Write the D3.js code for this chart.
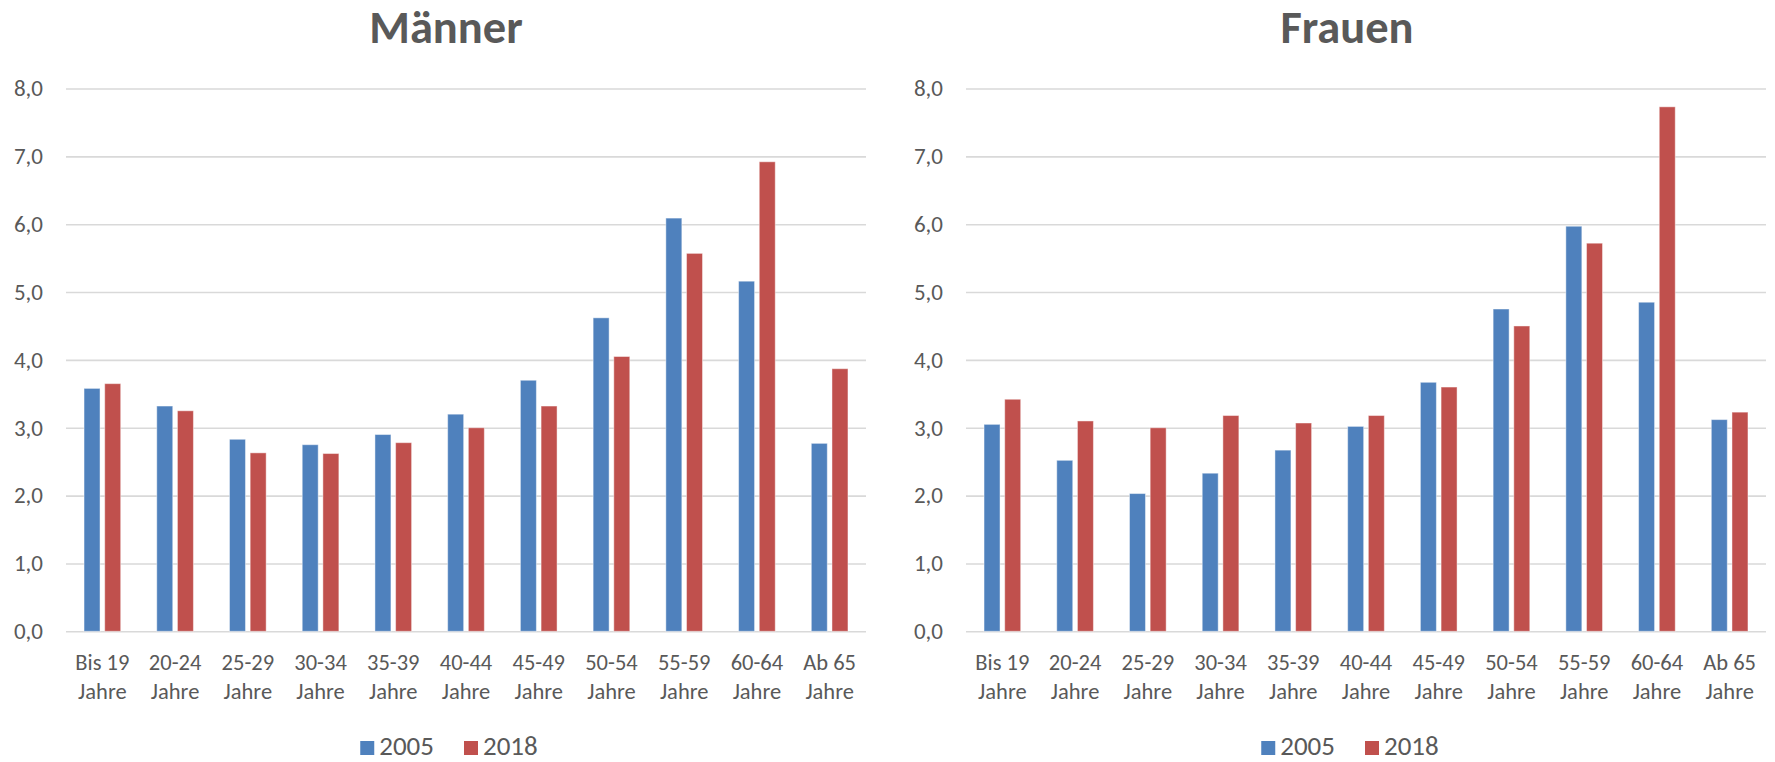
<!DOCTYPE html>
<html>
<head>
<meta charset="utf-8">
<script src="https://cdn.jsdelivr.net/npm/d3@7"></script>
<style>
  body { margin: 0; background: #fff; }
  svg text { font-family: Calibri, Carlito, "Open Sans", sans-serif; fill: #595959; }
</style>
</head>
<body>
<svg id="chart" width="1775" height="762"></svg>
<script>
// Daten
var categories = ["Bis 19 Jahre", "20-24 Jahre", "25-29 Jahre", "30-34 Jahre", "35-39 Jahre",
  "40-44 Jahre", "45-49 Jahre", "50-54 Jahre", "55-59 Jahre", "60-64 Jahre", "Ab 65 Jahre"];
var seriesNames = ["2005", "2018"];
var maenner2005 = [3.58, 3.32, 2.83, 2.75, 2.90, 3.20, 3.70, 4.62, 6.09, 5.16, 2.77];
var maenner2018 = [3.65, 3.25, 2.63, 2.62, 2.78, 3.00, 3.32, 4.05, 5.57, 6.92, 3.87];
var frauen2005 = [3.05, 2.52, 2.03, 2.33, 2.67, 3.02, 3.67, 4.75, 5.97, 4.85, 3.12];
var frauen2018 = [3.42, 3.10, 3.00, 3.18, 3.07, 3.18, 3.60, 4.50, 5.72, 7.73, 3.23];
var yTicks = [0, 1, 2, 3, 4, 5, 6, 7, 8];

var colors = ["#4f81bd", "#c0504d"];
var svg = d3.select("#chart");

function drawPanel(title, values2005, values2018, left, titleX) {
	var right = left + 800;
	var top = 88.5, bottom = 631.3;

	var g = svg.append("g");

	var x0 = d3.scaleBand().domain(categories).range([left, right]).padding(0);
	var x1 = d3.scaleBand().domain(seriesNames)
		.range([x0.bandwidth() * 0.248, x0.bandwidth() * 0.752])
		.paddingInner(0.227);
	var y = d3.scaleLinear().domain([0, 8]).range([bottom, top]);

	// y-Achse + Gitterlinien
	var yAxis = g.append("g")
		.attr("transform", "translate(" + left + ",0)")
		.call(d3.axisLeft(y).tickValues(yTicks).tickSize(-(right - left)).tickPadding(23)
			.tickFormat(function(d) { return d3.format(".1f")(d).replace(".", ","); }));
	yAxis.select(".domain").remove();
	yAxis.selectAll("line").attr("stroke", "#d9d9d9").attr("stroke-width", 1.6);
	yAxis.selectAll("text").attr("font-size", 23).attr("fill", "#595959");

	// Balken
	var rows = categories.map(function(c, i) {
		return { cat: c, vals: [values2005[i], values2018[i]] };
	});
	var groups = g.selectAll("g.cat")
		.data(rows)
		.enter().append("g")
		.attr("class", "cat")
		.attr("transform", function(d) { return "translate(" + x0(d.cat) + ",0)"; });
	groups.selectAll("rect")
		.data(function(d) { return d.vals.map(function(v, k) { return { s: seriesNames[k], v: v, k: k }; }); })
		.enter().append("rect")
		.attr("x", function(d) { return x1(d.s); })
		.attr("y", function(d) { return y(d.v); })
		.attr("width", x1.bandwidth())
		.attr("height", function(d) { return y(0) - y(d.v); })
		.attr("fill", function(d) { return colors[d.k]; })
		.attr("stroke", "rgba(255,255,255,0.45)")
		.attr("stroke-width", 1);

	// x-Achse, zweizeilige Labels
	var xAxis = g.append("g")
		.attr("transform", "translate(0," + bottom + ")")
		.call(d3.axisBottom(x0).tickSize(0));
	xAxis.select(".domain").remove();
	xAxis.selectAll("text").each(function(d) {
		var idx = d.lastIndexOf(" ");
		var t = d3.select(this).text(null).attr("font-size", 22.5).attr("fill", "#595959").attr("y", 0).attr("dy", null);
		t.append("tspan").attr("x", 0).attr("y", 38.7).text(d.slice(0, idx));
		t.append("tspan").attr("x", 0).attr("y", 67.8).text(d.slice(idx + 1));
	});

	// Titel
	g.append("text")
		.attr("x", titleX)
		.attr("y", 43)
		.attr("text-anchor", "middle")
		.attr("font-size", 46.5)
		.attr("font-weight", "bold")
		.attr("fill", "#595959")
		.text(title);

	// Legende
	var legend = g.append("g");
	var cx = 0;
	seriesNames.forEach(function(s, k) {
		legend.append("rect")
			.attr("x", cx).attr("y", 741)
			.attr("width", 14).attr("height", 14)
			.attr("fill", colors[k]);
		var txt = legend.append("text")
			.attr("x", cx + 19).attr("y", 755)
			.attr("font-size", 27)
			.text(s);
		cx += 19 + txt.node().getComputedTextLength() + 30;
	});
	var legendWidth = cx - 30;
	legend.attr("transform", "translate(" + (titleX + 3 - legendWidth / 2) + ",0)");
}

drawPanel("Männer", maenner2005, maenner2018, 66, 446);
drawPanel("Frauen", frauen2005, frauen2018, 966, 1347);
</script>
</body>
</html>
